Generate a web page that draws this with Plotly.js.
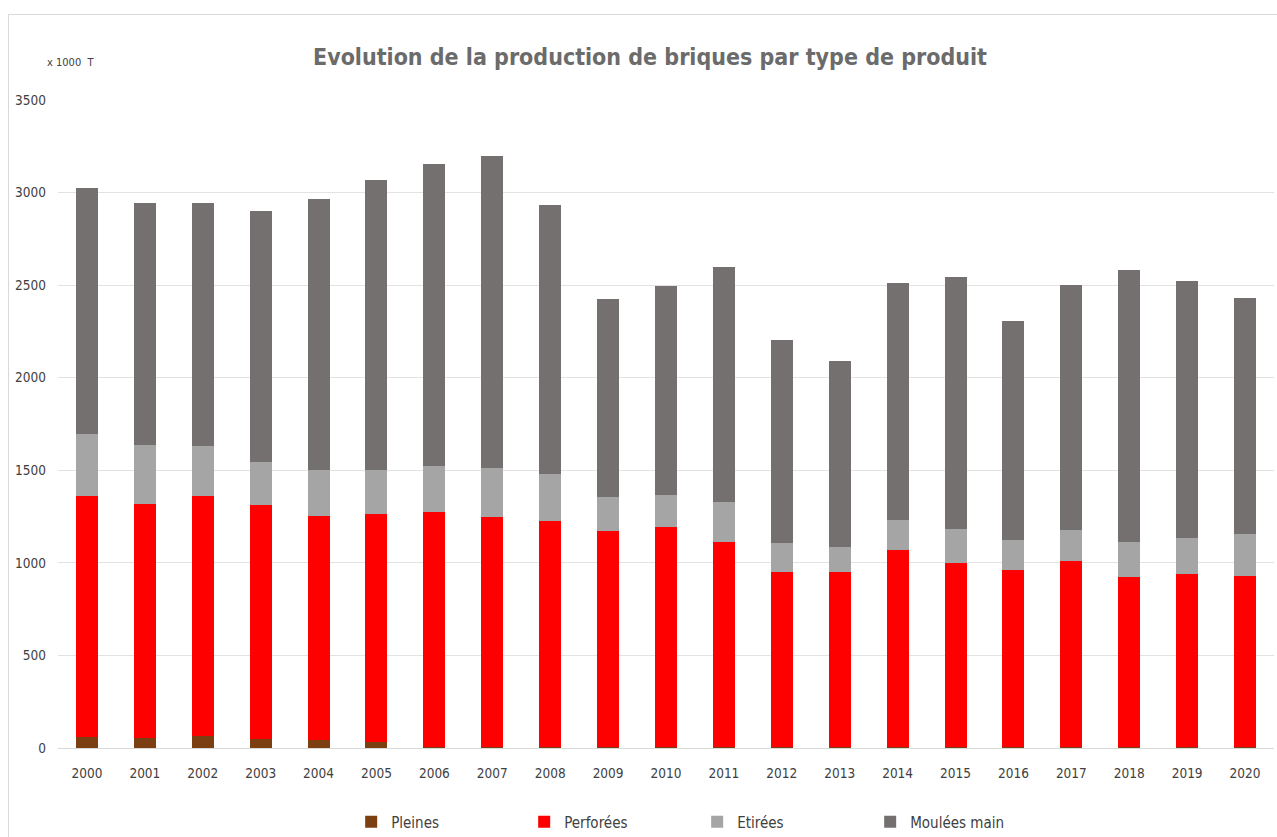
<!DOCTYPE html>
<html>
<head>
<meta charset="utf-8">
<script src="https://cdn.plot.ly/plotly-3.0.1.min.js"></script>
<style>
  html, body { margin: 0; padding: 0; background: #ffffff; }
  #chart { width: 1277px; height: 837px; position: absolute; left: 0; top: 0; }
  #frame { position: absolute; left: 8px; top: 14px; width: 1275px; height: 830px; border: 1px solid #d9d9d9; pointer-events: none; }
</style>
</head>
<body>
<div id="chart"></div>
<div id="frame"></div>
<script>
const years = ["2000","2001","2002","2003","2004","2005","2006","2007","2008","2009","2010",
               "2011","2012","2013","2014","2015","2016","2017","2018","2019","2020"];

// Cumulative tops (x 1000 T)
const pleines  = [58, 52, 65, 47, 43, 34, 8, 8, 6, 5, 4, 4, 3, 3, 3, 3, 3, 3, 3, 3, 3];
const topRed   = [1363,1316,1363,1311,1253,1262,1273,1248,1225,1171,1194,1111,950,950,1068,1000,960,1009,921,942,930];
const topEtir  = [1694,1636,1629,1543,1503,1503,1525,1511,1478,1354,1367,1327,1108,1086,1230,1185,1122,1180,1110,1135,1155];
const topTotal = [3025,2946,2946,2903,2964,3070,3152,3196,2931,2424,2496,2600,2205,2093,2512,2545,2307,2500,2581,2525,2431];

const perforees = topRed.map((v, i) => v - pleines[i]);
const etirees   = topEtir.map((v, i) => v - topRed[i]);
const moulees   = topTotal.map((v, i) => v - topEtir[i]);

const seriesNames  = ["Pleines", "Perforées", "Etirées", "Moulées main"];
const seriesValues = [pleines, perforees, etirees, moulees];
const seriesColors = ["#7b3f12", "#ff0000", "#a5a5a5", "#757070"];

const FONT = '"DejaVu Sans Condensed", "Liberation Sans Narrow", sans-serif';

const traces = seriesNames.map((name, k) => ({
  type: "bar",
  name: name,
  x: years,
  y: seriesValues[k],
  marker: { color: seriesColors[k], line: { width: 0 } },
  hoverinfo: "x+y+name"
}));

const layout = {
  width: 1277,
  height: 837,
  barmode: "stack",
  bargap: 0.62,
  paper_bgcolor: "rgba(0,0,0,0)",
  plot_bgcolor: "#ffffff",
  margin: { l: 58, r: 3, t: 100, b: 89 },
  title: {
    text: "<b>Evolution de la production de briques par type de produit</b>",
    x: 0.509, xanchor: "center", xref: "container",
    y: 0.932, yanchor: "middle", yref: "container",
    font: { family: FONT, size: 23, color: "#6b6b6b" }
  },
  font: { family: FONT, size: 13, color: "#595959" },
  xaxis: {
    type: "category",
    tickfont: { family: FONT, size: 13.5, color: "#404040" },
    showline: true, linecolor: "#d9d9d9", linewidth: 1,
    ticks: "", showgrid: false, zeroline: false,
    ticklabelstandoff: 13,
    fixedrange: true
  },
  yaxis: {
    range: [0, 3500],
    tickvals: [0, 500, 1000, 1500, 2000, 2500, 3000, 3500],
    ticktext: ["0", "500", "1000", "1500", "2000", "2500", "3000", "3500"],
    tickfont: { family: FONT, size: 13.5, color: "#404040" },
    showgrid: true, gridcolor: "#e3e3e3", gridwidth: 1,
    zeroline: false, showline: false, ticks: "",
    ticklabelstandoff: 11,
    fixedrange: true
  },
  legend: {
    orientation: "h",
    x: 0.275, xref: "container", xanchor: "left",
    y: 0.018, yref: "container", yanchor: "middle",
    font: { family: FONT, size: 15, color: "#404040" },
    traceorder: "normal",
    entrywidth: 128,
    itemwidth: 30,
    bgcolor: "rgba(0,0,0,0)"
  },
  annotations: [
    {
      text: "x 1000  T", xref: "paper", yref: "paper",
      x: -0.011, y: 1.058, xanchor: "left", yanchor: "middle",
      showarrow: false, font: { family: FONT, size: 11, color: "#404040" }
    }
  ],
  showlegend: true
};

Plotly.newPlot("chart", traces, layout, { displayModeBar: false, staticPlot: false });
</script>
</body>
</html>
